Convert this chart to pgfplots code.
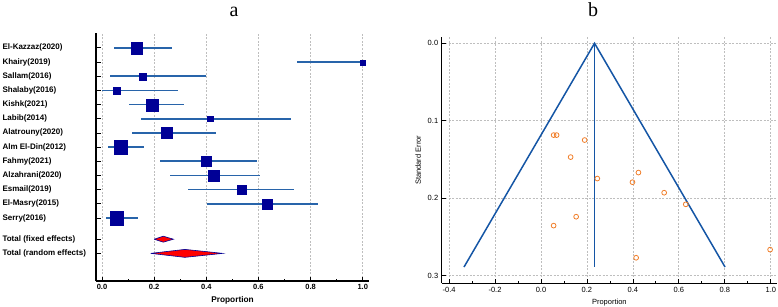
\documentclass[border=0pt]{standalone}
\usepackage{pgfplots}
\usepackage{pgfplotstable}
\pgfplotsset{compat=1.18}
\usepackage{fontspec}
\setmainfont{Liberation Sans}
\newfontfamily\titlefont{Liberation Serif}
\definecolor{boxblue}{RGB}{0,0,150}
\definecolor{ciblue}{RGB}{40,100,170}
\definecolor{funblue}{RGB}{20,85,165}
\definecolor{dotorange}{RGB}{240,125,40}
\definecolor{gridgray}{RGB}{190,190,190}

\pgfplotstableread{
row  est    lo     hi     sz
15.5 0.133  0.047  0.270  11.7
14.5 1.000  0.749  1.000  5.0
13.5 0.156  0.032  0.399  7.3
12.5 0.056  0.000  0.290  7.3
11.5 0.192  0.102  0.313  12.0
10.5 0.414  0.151  0.725  5.3
9.5  0.248  0.114  0.436  11.0
8.5  0.070  0.023  0.160  13.3
7.5  0.398  0.224  0.595  10.3
6.5  0.427  0.262  0.606  10.7
5.5  0.536  0.331  0.735  9.3
4.5  0.633  0.404  0.830  9.7
3.5  0.055  0.014  0.139  13.3
}\forestdata

\pgfplotstableread{
prop   se
0.055  0.1186
0.068  0.1186
0.190  0.1250
0.129  0.1470
0.245  0.1747
0.398  0.1794
0.424  0.1670
0.536  0.1930
0.630  0.2080
0.153  0.2240
0.055  0.2355
0.414  0.2770
0.997  0.2665
}\funneldata

\begin{document}
\begin{tikzpicture}
\useasboundingbox (0,0) rectangle (778pt,306pt);

\node[font=\titlefont\fontsize{20}{20}\selectfont, anchor=base] at (234pt,289.3pt) {a};
\node[font=\titlefont\fontsize{20}{20}\selectfont, anchor=base] at (593pt,289.3pt) {b};

% ---------- forest plot ----------
\begin{axis}[
  scale only axis, width=273pt, height=248pt,
  at={(96pt,25pt)}, anchor=south west,
  xmin=-0.023, xmax=1.024, ymin=-0.95, ymax=16.55,
  axis x line*=bottom, axis y line*=left,
  axis line style={line width=1.3pt, black, -},
  tick align=inside,
  major tick length=4.5pt, minor tick length=2.5pt,
  tick style={black, line width=0.8pt},
  xtick={0,0.2,0.4,0.6,0.8,1}, minor x tick num=1,
  ytick={1,2,3.5,4.5,5.5,6.5,7.5,8.5,9.5,10.5,11.5,12.5,13.5,14.5,15.5},
  yticklabels={Total (random effects),Total (fixed effects),Serry(2016),El-Masry(2015),Esmail(2019),Alzahrani(2020),Fahmy(2021),Alm El-Din(2012),Alatrouny(2020),Labib(2014),Kishk(2021),Shalaby(2016),Sallam(2016),Khairy(2019),El-Kazzaz(2020)},
  yticklabel style={font=\bfseries\fontsize{8}{9}\selectfont, anchor=west, xshift=-97pt},
  xticklabel style={font=\bfseries\fontsize{7.5}{9}\selectfont, /pgf/number format/.cd, fixed, fixed zerofill, precision=1},
  /pgf/number format/assume math mode=true,
  xmajorgrids, major grid style={gridgray, line width=0.8pt, dash pattern=on 2pt off 1.5pt},
  xlabel={Proportion},
  xlabel style={font=\bfseries\fontsize{8.3}{9}\selectfont},
  clip=false,
]
\addplot[only marks, mark=none,
  error bars/.cd, x dir=both, x explicit, error mark=none,
  error bar style={ciblue, line width=1.6pt}]
  table[x=est, y=row,
        x error plus expr=\thisrow{hi}-\thisrow{est},
        x error minus expr=\thisrow{est}-\thisrow{lo}] {\forestdata};
\addplot[only marks, mark=square*, boxblue,
  scatter, scatter/use mapped color={draw=boxblue, fill=boxblue},
  mark options={line width=0.1pt},
  visualization depends on={\thisrow{sz}/2 \as \msz},
  scatter/@pre marker code/.append style={/tikz/mark size=\msz}]
  table[x=est, y=row] {\forestdata};
% fixed effects diamond
\addplot[fill=red, draw=boxblue, line width=0.6pt]
  coordinates {(0.200,2) (0.235,2.21) (0.274,2) (0.235,1.79) (0.200,2)};
% random effects diamond
\addplot[fill=red, draw=boxblue, line width=0.6pt]
  coordinates {(0.187,1) (0.318,1.28) (0.463,1) (0.318,0.72) (0.187,1)};
\end{axis}

% ---------- funnel plot ----------
\begin{axis}[
  scale only axis, width=335.3pt, height=246pt,
  at={(441.7pt,22.7pt)}, anchor=south west,
  xmin=-0.432, xmax=1.027, ymin=-0.0077, ymax=0.31,
  y dir=reverse,
  axis x line*=bottom, axis y line*=left,
  axis line style={line width=1.3pt, black, -},
  tick align=inside,
  major tick length=4.5pt, minor tick length=2.5pt,
  tick style={black, line width=0.8pt},
  xtick={-0.4,-0.2,0,0.2,0.4,0.6,0.8,1}, minor x tick num=1,
  ytick={0,0.1,0.2,0.3},
  ticklabel style={font=\fontsize{7.5}{9}\selectfont, /pgf/number format/.cd, fixed, fixed zerofill, precision=1},
  /pgf/number format/assume math mode=true,
  grid=major, major grid style={gridgray, line width=0.8pt, dash pattern=on 2pt off 1.5pt},
  xlabel={Proportion}, ylabel={Standard Error},
  label style={font=\fontsize{7.5}{9}\selectfont},
  clip=false,
]
\addplot[funblue, line width=1.5pt] coordinates {(-0.335,0.289) (0.233,0) (0.801,0.289)};
\addplot[funblue, line width=1.5pt] coordinates {(0.233,0) (0.233,0.289)};
\addplot[only marks, mark=o, mark size=2.4pt, dotorange, line width=0.8pt]
  table[x=prop, y=se] {\funneldata};
\end{axis}
\end{tikzpicture}
\end{document}
